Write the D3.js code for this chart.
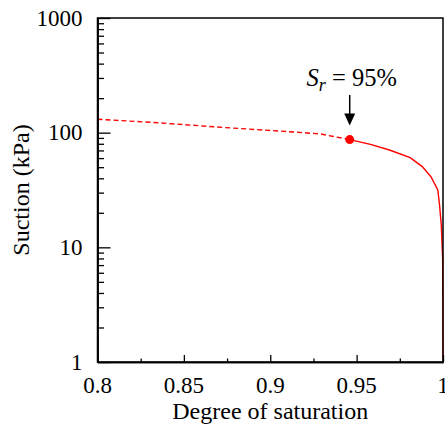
<!DOCTYPE html>
<html>
<head>
<meta charset="utf-8">
<script src="https://cdn.jsdelivr.net/npm/d3@7"></script>
</head>
<body style="margin:0">
<svg id="chart"></svg>
<script>
// data
const dashedSat = [0.8, 0.835, 0.873, 0.911, 0.929, 0.946];
const dashedSuction = [131, 122, 111, 102, 97.5, 87];
const solidSat = [0.946, 0.958, 0.969, 0.981, 0.988, 0.993, 0.997, 0.998, 0.999, 0.9998, 1.0];
const solidSuction = [87, 79, 70.6, 60.5, 50.6, 41.3, 31.6, 23.4, 15.7, 8, 1];
const markerSat = [0.946];
const markerSuction = [87];
const xTicks = [0.8, 0.85, 0.9, 0.95, 1];
const xMinor = [0.825, 0.875, 0.925, 0.975];
const yTicks = [1, 10, 100, 1000];
const xLabels = ["0.8", "0.85", "0.9", "0.95", "1"];
const yLabels = ["1", "10", "100", "1000"];

const width = 445;
const height = 430;
const margin = { left: 97.5, right: 2, top: 18, bottom: 68 };
const red = "#ff0000";

const svg = d3.select("#chart").attr("width", width).attr("height", height);

const x = d3.scaleLinear().domain([0.8, 1]).range([margin.left, width - margin.right]);
const y = d3.scaleLog().domain([1, 1000]).range([height - margin.bottom, margin.top]);

// minor log ticks 2..9 in each decade
const yMinor = [];
for (let d = 1; d < 1000; d *= 10) for (let k = 2; k < 10; k++) yMinor.push(d * k);

const plotH = height - margin.bottom - margin.top;

function serifText(sel, size) {
  return sel.style("font-family", '"Liberation Serif"').style("font-size", size + "px").attr("fill", "#000");
}

// tick labels
serifText(svg.selectAll(".xlab").data(xTicks).enter().append("text"), 23)
  .attr("x", (d) => x(d))
  .attr("y", 393)
  .attr("text-anchor", "middle")
  .text((d, i) => xLabels[i]);

serifText(svg.selectAll(".ylab").data(yTicks).enter().append("text"), 23)
  .attr("x", margin.left - 15)
  .attr("y", (d) => y(d) + 7.6)
  .attr("text-anchor", "end")
  .text((d, i) => yLabels[i]);

// axis titles
serifText(svg.append("text"), 24)
  .attr("x", (margin.left + x(1)) / 2)
  .attr("y", 419)
  .attr("text-anchor", "middle")
  .text("Degree of saturation");

serifText(svg.append("text"), 24)
  .attr("transform", "translate(28.5," + (margin.top + plotH / 2) + ") rotate(-90)")
  .attr("text-anchor", "middle")
  .text("Suction (kPa)");

// clip for curves
svg.append("defs").append("clipPath").attr("id", "clip")
  .append("rect").attr("x", margin.left).attr("y", margin.top)
  .attr("width", x(1) - margin.left).attr("height", plotH);

const line = d3.line().x((d) => x(d[0])).y((d) => y(d[1]));

svg.append("path")
  .datum(d3.zip(dashedSat, dashedSuction))
  .attr("clip-path", "url(#clip)")
  .attr("fill", "none")
  .attr("stroke", red)
  .attr("stroke-width", 1.4)
  .attr("stroke-dasharray", "5 3")
  .attr("d", line);

svg.append("path")
  .datum(d3.zip(solidSat, solidSuction))
  .attr("fill", "none")
  .attr("stroke", red)
  .attr("stroke-width", 1.4)
  .attr("d", line);

// frame
svg.append("rect")
  .attr("x", margin.left).attr("y", margin.top)
  .attr("width", x(1) - margin.left).attr("height", plotH)
  .attr("fill", "none").attr("stroke", "#000").attr("stroke-width", 1.5);

// axes: ticks only, pointing inward
svg.append("g")
  .attr("transform", "translate(0," + (height - margin.bottom) + ")")
  .call(d3.axisBottom(x).tickValues(xTicks).tickFormat("").tickSizeInner(-7).tickSizeOuter(0));
svg.append("g")
  .attr("transform", "translate(0," + (height - margin.bottom) + ")")
  .call(d3.axisBottom(x).tickValues(xMinor).tickFormat("").tickSizeInner(-3.5).tickSizeOuter(0));
svg.append("g")
  .attr("transform", "translate(" + margin.left + ",0)")
  .call(d3.axisLeft(y).tickValues(yTicks).tickFormat("").tickSizeInner(-13).tickSizeOuter(0));
svg.append("g")
  .attr("transform", "translate(" + margin.left + ",0)")
  .call(d3.axisLeft(y).tickValues(yMinor).tickFormat("").tickSizeInner(-6.5).tickSizeOuter(0));

svg.selectAll(".domain").attr("stroke", "#000").attr("stroke-width", 1.5);
svg.selectAll(".tick line").attr("stroke", "#000").attr("stroke-width", 1.3);
svg.selectAll(".tick text").remove();

// marker point
svg.selectAll(".marker")
  .data(d3.zip(markerSat, markerSuction))
  .enter()
  .append("circle")
  .attr("cx", (d) => x(d[0]))
  .attr("cy", (d) => y(d[1]))
  .attr("r", 4.5)
  .attr("fill", red);

// annotation arrow + label
const ax = x(markerSat[0]);
const tipY = y(markerSuction[0]) - 14;
svg.append("line")
  .attr("x1", ax).attr("x2", ax)
  .attr("y1", 95).attr("y2", tipY - 10)
  .attr("stroke", "#000").attr("stroke-width", 1.5);
svg.append("path")
  .attr("d", `M${ax - 5.5},${tipY - 12} L${ax + 5.5},${tipY - 12} L${ax},${tipY} Z`)
  .attr("fill", "#000");

const label = serifText(svg.append("text"), 24.5)
  .attr("x", ax + 2)
  .attr("y", 86)
  .attr("text-anchor", "middle");
label.append("tspan").style("font-style", "italic").text("S");
label.append("tspan").style("font-style", "italic").style("font-size", "18px").attr("dy", 5).text("r");
label.append("tspan").attr("dy", -5).text(" = 95%");
</script>
</body>
</html>
